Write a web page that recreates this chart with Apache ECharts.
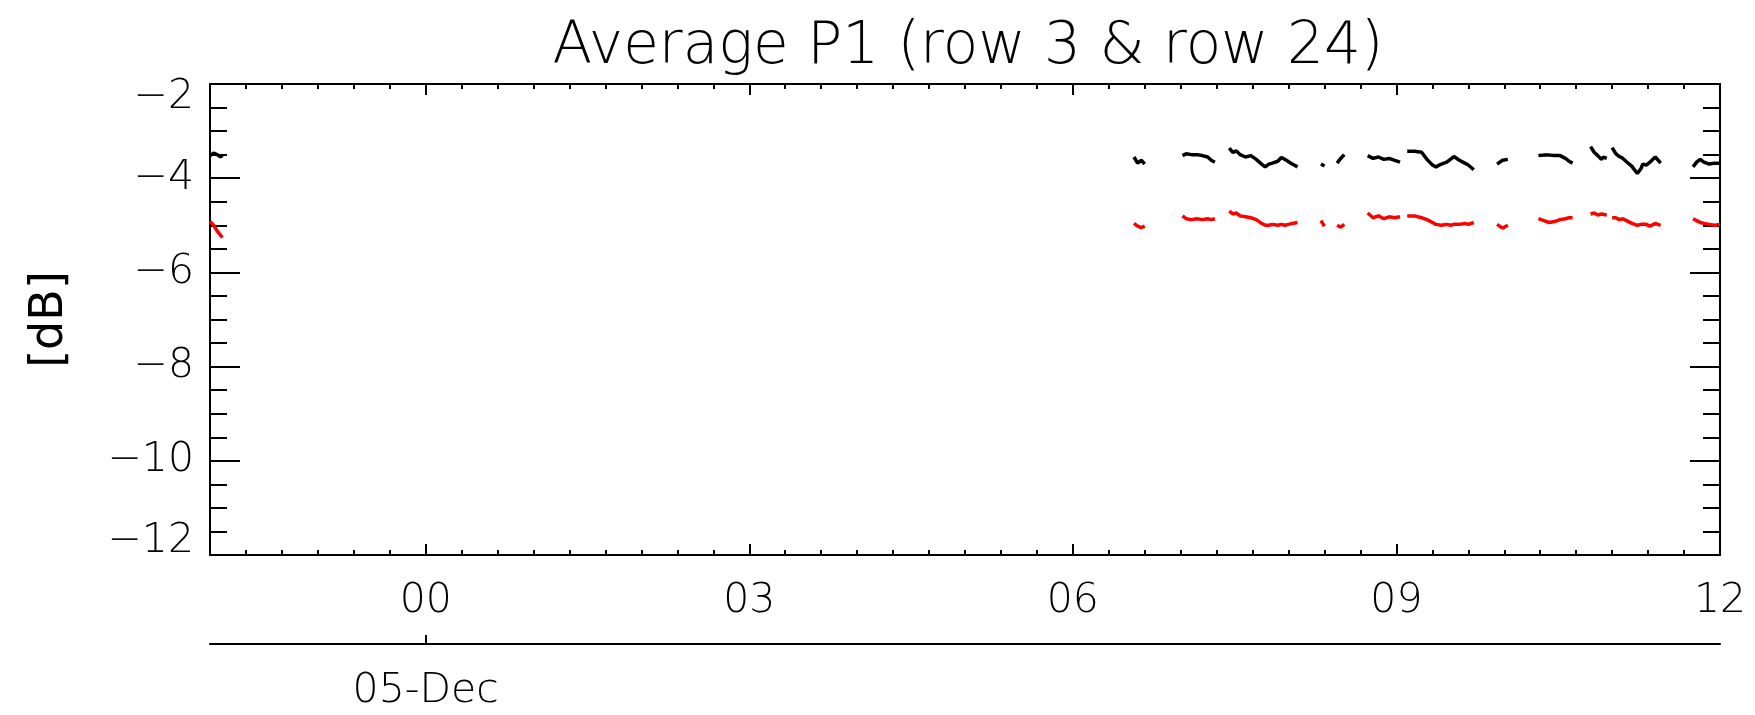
<!DOCTYPE html>
<html>
<head>
<meta charset="utf-8">
<script src="https://cdn.jsdelivr.net/npm/echarts@6/dist/echarts.min.js"></script>
<style>
  html, body { margin: 0; padding: 0; background: #fff; }
  #chart { width: 1755px; height: 715px; }
</style>
</head>
<body>
<div id="chart"></div>
<script>
// Time in minutes relative to 05-Dec 00:00 (null values mark data gaps)
const minutes = [
  -120, -118, -116, -114, -113,
  -100,
  394, 396, 398, 400,
  410,
  421, 423, 426, 429, 432, 435, 437, 439,
  443,
  447, 449, 451, 453, 456, 459, 462, 465, 467, 469, 471, 474, 476, 478, 480, 482, 485,
  492,
  498, 500,
  504,
  507, 509, 511,
  518,
  524, 527, 530, 533, 536, 539, 542,
  544,
  546, 550, 554, 557, 560, 562, 565, 568, 570, 572, 575, 578, 580, 583,
  590,
  596, 599, 602,
  610,
  619, 622, 625, 628, 631, 634, 636, 638,
  643,
  648, 650, 652, 654, 655, 657,
  658.5,
  660, 662, 664, 666, 668, 671, 674, 676, 677, 679, 681, 684, 687,
  695,
  705, 707, 709, 711, 714, 717, 720
];

// Row 3 (black)
const row3 = [
  -3.52, -3.47, -3.50, -3.55, -3.50,
  null,
  -3.55, -3.68, -3.62, -3.70,
  null,
  -3.52, -3.48, -3.50, -3.50, -3.52, -3.55, -3.62, -3.66,
  null,
  -3.36, -3.45, -3.42, -3.50, -3.55, -3.52, -3.60, -3.70, -3.76, -3.70, -3.68, -3.64, -3.56, -3.60, -3.65, -3.70, -3.76,
  null,
  -3.70, -3.74,
  null,
  -3.68, -3.58, -3.50,
  null,
  -3.52, -3.58, -3.55, -3.60, -3.58, -3.62, -3.66,
  null,
  -3.43, -3.43, -3.45, -3.60, -3.72, -3.76, -3.70, -3.66, -3.60, -3.54, -3.62, -3.68, -3.72, -3.82,
  null,
  -3.70, -3.62, -3.60,
  null,
  -3.52, -3.51, -3.51, -3.52, -3.52, -3.58, -3.64, -3.68,
  null,
  -3.33, -3.45, -3.52, -3.60, -3.55, -3.58,
  null,
  -3.35, -3.48, -3.54, -3.58, -3.65, -3.75, -3.90, -3.80, -3.70, -3.72, -3.66, -3.55, -3.68,
  null,
  -3.76, -3.66, -3.60, -3.66, -3.70, -3.68, -3.68
];

// Row 24 (red)
const row24 = [
  -4.92, -5.00, -5.12, -5.22, -5.26,
  null,
  -4.96, -5.02, -5.05, -5.02,
  null,
  -4.80, -4.86, -4.88, -4.86, -4.88, -4.86, -4.88, -4.86,
  null,
  -4.70, -4.76, -4.74, -4.80, -4.82, -4.84, -4.88, -4.96, -5.00, -5.00, -4.98, -5.00, -4.98, -5.00, -4.98, -4.96, -4.94,
  null,
  -4.90, -5.02,
  null,
  -5.00, -5.04, -4.98,
  null,
  -4.74, -4.84, -4.80, -4.86, -4.82, -4.84, -4.82,
  null,
  -4.80, -4.80, -4.84, -4.88, -4.94, -4.98, -5.00, -4.98, -5.00, -4.98, -4.98, -4.96, -4.98, -4.94,
  null,
  -4.98, -5.06, -5.00,
  null,
  -4.86, -4.90, -4.94, -4.92, -4.88, -4.86, -4.84, -4.84,
  null,
  -4.76, -4.74, -4.78, -4.76, -4.80, -4.78,
  null,
  -4.84, -4.84, -4.88, -4.86, -4.90, -4.96, -5.00, -4.98, -5.02, -4.98, -5.02, -4.96, -5.00,
  null,
  -4.86, -4.90, -4.94, -4.96, -4.98, -5.00, -4.98
];

// Axis ticks / labels
const majorTickMinutes = [0, 180, 360, 540, 720];
const majorTickLabels = ['00', '03', '06', '09', '12'];
const dayTickMinutes = [0];
const dayTickLabels = ['05-Dec'];

const FONT = 'DejaVu Sans';
const black = '#000000';

const pairs = (vals) => minutes.map((t, i) => [t, vals[i]]);

const baseX = {
  type: 'value', min: -120, max: 720, gridIndex: 0,
  splitLine: { show: false },
  axisLine: { show: true, onZero: false, lineStyle: { color: black, width: 2 } },
};

const minorX = (pos) => Object.assign({}, baseX, {
  position: pos, interval: 20,
  axisTick: { show: true, inside: true, length: 5, lineStyle: { color: black, width: 2 } },
  axisLabel: { show: false }
});
const majorX = (pos, withLabels) => Object.assign({}, baseX, {
  position: pos,
  axisLine: { show: false },
  axisTick: { show: true, inside: true, length: 11, customValues: majorTickMinutes, lineStyle: { color: black, width: 2 } },
  axisLabel: withLabels ? {
    show: true, customValues: majorTickMinutes, margin: 26,
    fontFamily: FONT, fontWeight: 200, fontSize: 41, color: black,
    formatter: (v) => majorTickLabels[majorTickMinutes.indexOf(v)]
  } : { show: false }
});

const yCommon = (pos, withLabels) => ({
  type: 'value', min: -12, max: -2, interval: 2, position: pos, gridIndex: 0,
  splitLine: { show: false },
  axisLine: { show: true, onZero: false, lineStyle: { color: black, width: 2 } },
  axisTick: { show: true, inside: true, length: 30, lineStyle: { color: black, width: 2 } },
  minorTick: { show: true, splitNumber: 4, length: 17, lineStyle: { color: black, width: 2 } },
  axisLabel: withLabels ? {
    show: true, margin: 16, fontFamily: FONT, fontWeight: 200, fontSize: 41, lineHeight: 27, color: black,
    verticalAlignMinLabel: 'bottom', verticalAlignMaxLabel: 'top',
    formatter: (v) => (v < 0 ? '\u2212' : '') + Math.abs(v)
  } : { show: false },
  name: withLabels ? '[dB]' : '',
  nameLocation: 'middle', nameRotate: 90, nameGap: 137,
  nameTextStyle: { fontFamily: FONT, fontSize: 46, color: black }
});

const chart = echarts.init(document.getElementById('chart'), null, { renderer: 'canvas' });
chart.setOption({
  animation: false,
  backgroundColor: '#ffffff',
  title: {
    text: 'Average P1 (row 3 & row 24)',
    left: 963, top: 14, textAlign: 'center',
    textStyle: { fontFamily: FONT, fontWeight: 200, fontSize: 58, color: black }
  },
  grid: { left: 210, right: 35, top: 84, bottom: 160, containLabel: false, outerBoundsMode: 'none' },
  xAxis: [
    minorX('bottom'),
    majorX('bottom', true),
    minorX('top'),
    majorX('top', false),
    Object.assign({}, baseX, {
      position: 'bottom', offset: 89,
      axisTick: { show: true, inside: true, length: 9, customValues: dayTickMinutes, lineStyle: { color: black, width: 2 } },
      axisLabel: {
        show: true, customValues: dayTickMinutes, margin: 27,
        fontFamily: FONT, fontWeight: 200, fontSize: 41, color: black,
        formatter: (v) => dayTickLabels[dayTickMinutes.indexOf(v)]
      }
    })
  ],
  yAxis: [yCommon('left', true), yCommon('right', false)],
  series: [
    {
      name: 'row 3', type: 'line', xAxisIndex: 0, yAxisIndex: 0,
      data: pairs(row3), showSymbol: false, connectNulls: false,
      lineStyle: { color: '#000000', width: 3.5 }, itemStyle: { color: '#000000' }
    },
    {
      name: 'row 24', type: 'line', xAxisIndex: 0, yAxisIndex: 0,
      data: pairs(row24), showSymbol: false, connectNulls: false,
      lineStyle: { color: '#ff0000', width: 3.5 }, itemStyle: { color: '#ff0000' }
    }
  ]
});
</script>
</body>
</html>
